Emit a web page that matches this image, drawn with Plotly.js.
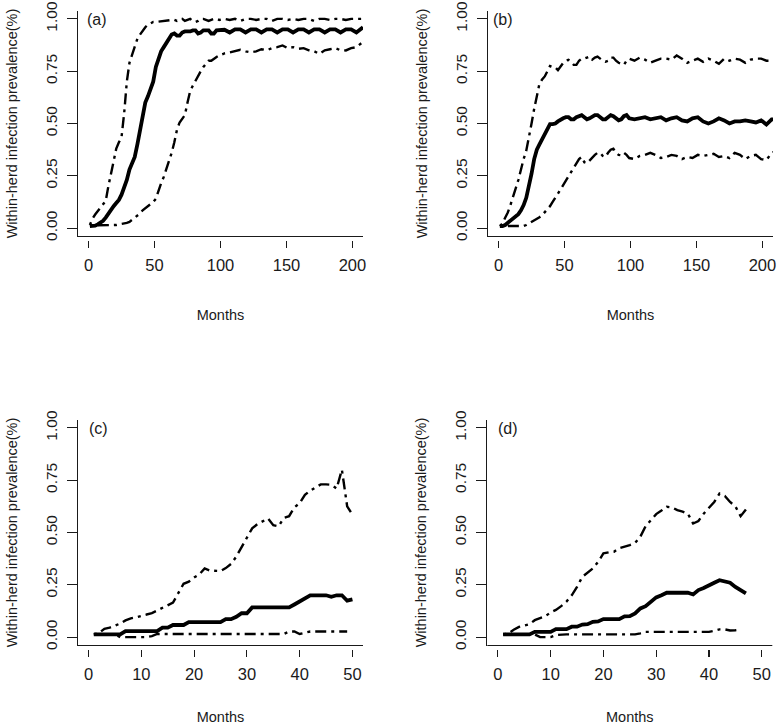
<!DOCTYPE html>
<html><head><meta charset="utf-8">
<script src="https://cdn.plot.ly/plotly-3.0.1.min.js"></script>
<style>html,body{margin:0;padding:0;background:#fff}#chart{width:779px;height:725px}</style>
</head><body><div id="chart"></div>
<script>
// ---------- DATA ----------
const yTickVals = [0, 0.25, 0.5, 0.75, 1];
const yTickLabels = ["0.00", "0.25", "0.50", "0.75", "1.00"];
const xTicksAB = [0, 50, 100, 150, 200];
const xTicksCD = [0, 10, 20, 30, 40, 50];
const panelLabels = ["(a)", "(b)", "(c)", "(d)"];
const yTitle = "Within-herd infection prevalence(%)";
const xTitle = "Months";

const monthsAB = [1,3,5,7,9,11,13,15,17,19,21,23,25,27,29,31,33,35,37,39,41,43,45,47,49,51,53,55,57,59,61,63,65,67,69,71,73,75,77,79,81,83,85,87,89,91,93,95,97,99,103,107,111,115,119,123,127,131,135,139,143,147,151,155,159,163,167,171,175,179,183,187,191,195,199,203,207,208];

const aMedian = [0.01,0.01,0.012,0.018,0.025,0.035,0.05,0.07,0.09,0.105,
 0.12,0.135,0.16,0.19,0.23,0.28,0.31,0.34,0.4,0.47,
 0.54,0.6,0.63,0.66,0.7,0.77,0.81,0.845,0.865,0.885,
 0.905,0.925,0.93,0.92,0.92,0.935,0.94,0.94,0.94,0.945,
 0.945,0.93,0.935,0.945,0.945,0.945,0.93,0.93,0.945,0.945,
 0.948,0.935,0.95,0.95,0.935,0.95,0.95,0.935,0.95,0.95,0.935,0.95,0.95,0.935,0.95,0.95,0.935,0.95,0.95,0.935,0.95,0.95,0.935,0.95,0.95,0.935,0.955,
 0.96];
const aUpper = [0.015,0.045,0.065,0.08,0.095,0.11,0.13,0.2,0.26,0.33,
 0.38,0.41,0.435,0.55,0.7,0.79,0.83,0.875,0.905,0.925,
 0.945,0.96,0.972,0.98,0.985,0.985,0.987,0.99,0.99,0.992,
 0.995,0.995,0.995,0.99,0.995,1.0,0.99,0.995,1.0,0.99,
 0.985,0.99,1.0,1.0,0.995,0.99,0.995,1.0,1.0,0.995,
 1.0,0.995,1.0,0.99,1.0,1.0,0.995,1.0,1.0,0.99,1.0,1.0,0.995,1.0,0.995,1.0,1.0,0.99,1.0,1.0,0.995,1.0,1.0,0.995,1.0,1.0,1.0,
 1.0];
const aLower = [0.013,0.013,0.013,0.013,0.013,0.013,0.013,0.013,0.013,0.013,
 0.015,0.018,0.02,0.022,0.025,0.03,0.04,0.05,0.058,0.07,
 0.085,0.095,0.105,0.112,0.125,0.14,0.18,0.215,0.245,0.28,
 0.32,0.36,0.41,0.47,0.505,0.52,0.54,0.6,0.655,0.68,
 0.705,0.73,0.75,0.77,0.785,0.8,0.8,0.81,0.818,0.825,
 0.835,0.84,0.845,0.852,0.845,0.84,0.845,0.855,0.85,0.86,0.865,0.873,0.86,0.865,0.857,0.86,0.85,0.845,0.833,0.85,0.855,0.86,0.85,0.849,0.86,0.865,0.885,
 0.889];

const bMedian = [0.01,0.01,0.015,0.025,0.033,0.042,0.055,0.067,0.085,0.11,
 0.145,0.197,0.26,0.33,0.375,0.4,0.425,0.45,0.48,0.497,
 0.497,0.5,0.51,0.52,0.525,0.53,0.53,0.52,0.52,0.53,
 0.535,0.54,0.53,0.52,0.525,0.535,0.54,0.54,0.53,0.52,
 0.52,0.53,0.54,0.535,0.525,0.515,0.52,0.535,0.54,0.525,
 0.52,0.525,0.53,0.52,0.525,0.53,0.515,0.525,0.53,0.515,0.51,0.525,0.53,0.51,0.5,0.51,0.525,0.515,0.5,0.51,0.51,0.515,0.51,0.505,0.515,0.495,0.52,
 0.52];
const bUpper = [0.01,0.022,0.05,0.075,0.11,0.145,0.19,0.23,0.285,0.33,
 0.37,0.43,0.5,0.57,0.64,0.69,0.71,0.725,0.75,0.775,
 0.77,0.768,0.755,0.775,0.79,0.8,0.804,0.795,0.78,0.78,
 0.8,0.81,0.81,0.815,0.82,0.805,0.815,0.82,0.81,0.8,
 0.795,0.8,0.815,0.815,0.8,0.79,0.785,0.78,0.8,0.81,
 0.8,0.815,0.805,0.79,0.8,0.81,0.81,0.805,0.825,0.81,0.79,0.8,0.81,0.795,0.81,0.8,0.785,0.81,0.8,0.81,0.805,0.79,0.805,0.81,0.81,0.8,0.8,
 0.8];
const bLower = [0.01,0.01,0.01,0.01,0.01,0.01,0.01,0.01,0.01,0.01,
 0.015,0.022,0.028,0.035,0.042,0.052,0.062,0.075,0.09,0.105,
 0.125,0.148,0.165,0.185,0.205,0.225,0.25,0.27,0.29,0.305,
 0.33,0.34,0.315,0.31,0.325,0.34,0.35,0.36,0.36,0.345,
 0.34,0.36,0.375,0.38,0.36,0.35,0.348,0.36,0.35,0.335,
 0.33,0.345,0.35,0.36,0.35,0.335,0.34,0.35,0.345,0.33,0.34,0.335,0.35,0.345,0.35,0.355,0.34,0.345,0.335,0.36,0.35,0.33,0.345,0.35,0.33,0.325,0.36,
 0.364];

const monthsC = [1,2,3,4,5,6,7,8,9,10,11,12,13,14,15,16,17,18,19,20,21,22,23,24,25,26,27,28,29,30,31,32,33,34,35,36,37,38,39,40,41,42,43,44,45,46,47,48,49,50];
const cMedian = [0.013,0.013,0.013,0.013,0.013,0.013,0.029,0.029,0.029,0.029,
 0.029,0.029,0.029,0.045,0.045,0.058,0.058,0.058,0.072,0.072,
 0.072,0.072,0.072,0.072,0.072,0.086,0.086,0.097,0.114,0.114,
 0.142,0.142,0.142,0.142,0.142,0.142,0.142,0.142,0.156,0.17,
 0.185,0.2,0.2,0.2,0.2,0.193,0.2,0.2,0.174,0.18];
const cUpper = [0.013,0.02,0.04,0.045,0.055,0.065,0.08,0.09,0.095,0.1,
 0.108,0.115,0.128,0.14,0.15,0.165,0.21,0.255,0.265,0.285,
 0.3,0.328,0.318,0.316,0.316,0.33,0.35,0.385,0.43,0.48,
 0.52,0.54,0.555,0.567,0.535,0.53,0.57,0.578,0.62,0.64,
 0.68,0.7,0.715,0.73,0.73,0.728,0.71,0.8,0.625,0.585];
const cLower = [0.013,0.013,0.013,0.013,0.013,0,0,0,0,0,
 0,0.005,0.015,0.015,0.015,0.015,0.015,0.015,0.015,0.015,
 0.015,0.015,0.015,0.015,0.015,0.015,0.015,0.015,0.015,0.015,
 0.015,0.015,0.015,0.015,0.015,0.015,0.015,0.027,0.027,0.015,
 0.02,0.027,0.027,0.027,0.027,0.027,0.027,0.027,0.027];

const monthsD = [1,2,3,4,5,6,7,8,9,10,11,12,13,14,15,16,17,18,19,20,21,22,23,24,25,26,27,28,29,30,31,32,33,34,35,36,37,38,39,40,41,42,43,44,45,46,47];
const dMedian = [0.013,0.013,0.013,0.013,0.013,0.013,0.025,0.025,0.025,0.025,
 0.038,0.038,0.038,0.05,0.05,0.06,0.062,0.073,0.075,0.086,
 0.086,0.086,0.086,0.099,0.1,0.113,0.137,0.148,0.169,0.19,
 0.2,0.212,0.212,0.212,0.212,0.212,0.204,0.225,0.235,0.25,
 0.26,0.272,0.268,0.26,0.24,0.225,0.209];
const dUpper = [0.013,0.018,0.035,0.049,0.055,0.062,0.081,0.09,0.1,0.118,
 0.13,0.148,0.17,0.2,0.24,0.288,0.31,0.328,0.36,0.4,
 0.405,0.408,0.425,0.432,0.44,0.45,0.48,0.53,0.56,0.588,
 0.605,0.623,0.62,0.607,0.6,0.59,0.543,0.555,0.59,0.62,
 0.646,0.686,0.675,0.646,0.625,0.578,0.61];
const dLower = [0.013,0.013,0.013,0.013,0.013,0.013,0.013,0,0,0,
 0.01,0.013,0.013,0.013,0.013,0.013,0.013,0.013,0.013,0.013,
 0.013,0.013,0.013,0.013,0.013,0.013,0.018,0.025,0.025,0.025,
 0.025,0.025,0.025,0.025,0.025,0.025,0.025,0.025,0.025,0.025,
 0.03,0.037,0.037,0.032,0.033,0.036];

// ---------- LAYOUT GEOMETRY (pixels) ----------
const W = 779, H = 725;
const fx = p => p / W;
const fy = p => 1 - p / H;
const FONT = "Liberation Sans, Arial, sans-serif";
const INK = "#1a1a1a";

const panels = [
  {sfx: "",  months: monthsAB, med: aMedian, up: aUpper, lo: aLower, loMonths: monthsAB, xr: [-8, 208], xt: xTicksAB, box: [78, 363, 10.5, 236.5], lab: [85, 19], tso: 36},
  {sfx: "2", months: monthsAB, med: bMedian, up: bUpper, lo: bLower, loMonths: monthsAB, xr: [-8, 208], xt: xTicksAB, box: [488, 773, 10.5, 236.5], lab: [491, 19], tso: 36},
  {sfx: "3", months: monthsC, med: cMedian, up: cUpper, lo: cLower, loMonths: monthsC.slice(0, cLower.length), xr: [-2, 52], xt: xTicksCD, box: [78, 363, 419.5, 645.5], lab: [87, 428], tso: 29},
  {sfx: "4", months: monthsD, med: dMedian, up: dUpper, lo: dLower, loMonths: monthsD.slice(0, dLower.length), xr: [-2, 52], xt: xTicksCD, box: [487.3, 772.3, 419.5, 645.5], lab: [496, 428], tso: 29}
];

const DASH = "3px,5px,11px,5px";
const traces = [];
const layout = {
  width: W, height: H,
  margin: {l: 0, r: 0, t: 0, b: 0},
  paper_bgcolor: "#fff", plot_bgcolor: "#fff",
  showlegend: false,
  font: {family: FONT, color: INK},
  shapes: [], annotations: []
};

panels.forEach((p, i) => {
  const xa = "x" + p.sfx, ya = "y" + p.sfx;
  traces.push({x: p.months, y: p.up, xaxis: xa, yaxis: ya, type: "scatter", mode: "lines",
    line: {color: "#000", width: 2.4, dash: DASH}, hoverinfo: "skip"});
  traces.push({x: p.loMonths, y: p.lo, xaxis: xa, yaxis: ya, type: "scatter", mode: "lines",
    line: {color: "#000", width: 2.4, dash: DASH}, hoverinfo: "skip"});
  traces.push({x: p.months, y: p.med, xaxis: xa, yaxis: ya, type: "scatter", mode: "lines",
    line: {color: "#000", width: 3.8}, hoverinfo: "skip"});

  const [L, R, T, B] = p.box;
  layout["xaxis" + p.sfx] = {
    domain: [fx(L), fx(R)], range: p.xr, anchor: "free", position: fy(B + 3),
    showline: false, showgrid: false, zeroline: false,
    ticks: "outside", ticklen: 7, tickwidth: 1.2, tickcolor: INK,
    tickmode: "array", tickvals: p.xt, ticktext: p.xt.map(String),
    tickfont: {family: FONT, size: 16.5, color: INK}, ticklabelstandoff: 4,
    title: {text: xTitle, font: {family: FONT, size: 14.5, color: INK}, standoff: p.tso},
    automargin: false, fixedrange: true
  };
  layout["yaxis" + p.sfx] = {
    domain: [fy(B), fy(T)], range: [-0.04, 1.04], anchor: xa,
    showline: true, linewidth: 1.2, linecolor: INK, showgrid: false, zeroline: false,
    ticks: "outside", ticklen: 10, tickwidth: 1.2, tickcolor: INK,
    tickmode: "array", tickvals: yTickVals, ticktext: yTickLabels, tickangle: -90,
    tickfont: {family: FONT, size: 15.5, color: INK}, ticklabelstandoff: 4,
    title: {text: yTitle, font: {family: FONT, size: 14.5, color: INK}, standoff: 21},
    automargin: false, fixedrange: true
  };
  layout.shapes.push({type: "line", xref: xa + " domain", yref: ya + " domain",
    x0: 0, x1: 1, y0: 0, y1: 0, line: {color: INK, width: 1.2}});
  layout.annotations.push({text: panelLabels[i], xref: "paper", yref: "paper",
    x: fx(p.lab[0]), y: fy(p.lab[1]), xanchor: "left", yanchor: "middle",
    showarrow: false, font: {family: FONT, size: 16, color: INK}});
});

Plotly.newPlot("chart", traces, layout, {staticPlot: true, displayModeBar: false});
</script>
</body></html>
